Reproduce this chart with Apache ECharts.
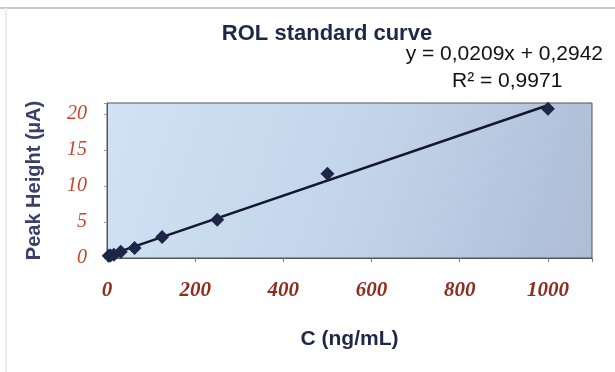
<!DOCTYPE html>
<html>
<head>
<meta charset="utf-8">
<script src="https://cdn.jsdelivr.net/npm/echarts@6/dist/echarts.min.js"></script>
<style>
  html, body { margin: 0; padding: 0; background: #fff; }
  #chart { width: 615px; height: 372px; }
</style>
</head>
<body>
<div id="chart"></div>
<script>
// standard points
const conc = [3.9, 7.8, 15.6, 31.25, 62.5, 125, 250, 500, 1000];
const peak = [0.3, 0.35, 0.45, 0.85, 1.4, 2.9, 5.3, 11.7, 20.7];
const xTicks = [0, 200, 400, 600, 800, 1000];
const yTicks = [0, 5, 10, 15, 20];
// linear fit shown on the chart
const SLOPE = 0.0209;
const INTERCEPT = 0.2942;
const FIT_X = [0, 1000];

const NAVY = '#1f2747';
const chart = echarts.init(document.getElementById('chart'));

chart.setOption({
  backgroundColor: '#fff',
  animation: false,
  title: {
    text: 'ROL standard curve',
    left: 322,
    textAlign: 'center',
    top: 18,
    textStyle: { fontFamily: 'Liberation Sans', fontSize: 22, fontWeight: 'bold', color: NAVY },
  },
  graphic: [
    { type: 'line', shape: { x1: 0, y1: 8, x2: 615, y2: 8 }, style: { stroke: '#c9c9c9', lineWidth: 2 } },
    { type: 'line', shape: { x1: 6, y1: 8, x2: 6, y2: 372 }, style: { stroke: '#ececec', lineWidth: 2 } },
    {
      type: 'text', right: 12, top: 44,
      style: { text: 'y = 0,0209x + 0,2942', font: '21px "Liberation Sans"', fill: '#111' },
    },
    {
      type: 'text', left: 452, top: 71,
      style: { text: 'R² = 0,9971', font: '21px "Liberation Sans"', fill: '#111' },
    },
  ],
  grid: {
    left: 107, right: 23, top: 103, bottom: 114,
    show: true,
    borderColor: '#555',
    borderWidth: 1,
    backgroundColor: {
      type: 'linear', x: 0, y: 0, x2: 1, y2: 1,
      colorStops: [
        { offset: 0, color: '#d0e2f3' },
        { offset: 0.5, color: '#c3d5eb' },
        { offset: 1, color: '#aebcd6' },
      ],
    },
  },
  xAxis: {
    type: 'value',
    min: 0,
    max: 1100,
    interval: 200,
    name: 'C (ng/mL)',
    nameLocation: 'middle',
    nameGap: 71,
    nameTextStyle: { fontFamily: 'Liberation Sans', fontSize: 21, fontWeight: 'bold', color: NAVY },
    axisLine: { show: true, lineStyle: { color: '#555' } },
    axisTick: { show: true, length: 4, lineStyle: { color: '#777' } },
    splitLine: { show: false },
    axisLabel: {
      margin: 22,
      fontFamily: 'Liberation Serif',
      fontStyle: 'italic',
      fontWeight: 'bold',
      fontSize: 21,
      color: '#8e2c20',
      formatter: (v) => (xTicks.includes(v) ? String(v) : ''),
    },
  },
  yAxis: {
    type: 'value',
    min: 0,
    max: 21.5,
    interval: 5,
    name: 'Peak Height (µA)',
    nameLocation: 'middle',
    nameGap: 63,
    nameTextStyle: { fontFamily: 'Liberation Sans', fontSize: 20, fontWeight: 'bold', color: '#3b3f6a' },
    axisLine: { show: true, lineStyle: { color: '#555' } },
    axisTick: { show: true, length: 3, lineStyle: { color: '#999' } },
    splitLine: { show: false },
    axisLabel: {
      margin: 20,
      fontFamily: 'Liberation Serif',
      fontStyle: 'italic',
      fontSize: 20,
      color: '#c8452c',
      formatter: (v) => (yTicks.includes(v) ? String(v) : ''),
    },
  },
  series: [
    {
      type: 'line',
      data: FIT_X.map((x) => [x, SLOPE * x + INTERCEPT]),
      showSymbol: false,
      lineStyle: { color: '#15182a', width: 2.5 },
      z: 2,
    },
    {
      type: 'scatter',
      data: conc.map((c, i) => [c, peak[i]]),
      symbol: 'diamond',
      symbolSize: 14,
      itemStyle: { color: '#1e2648', opacity: 1 },
      z: 3,
    },
  ],
});
</script>
</body>
</html>
